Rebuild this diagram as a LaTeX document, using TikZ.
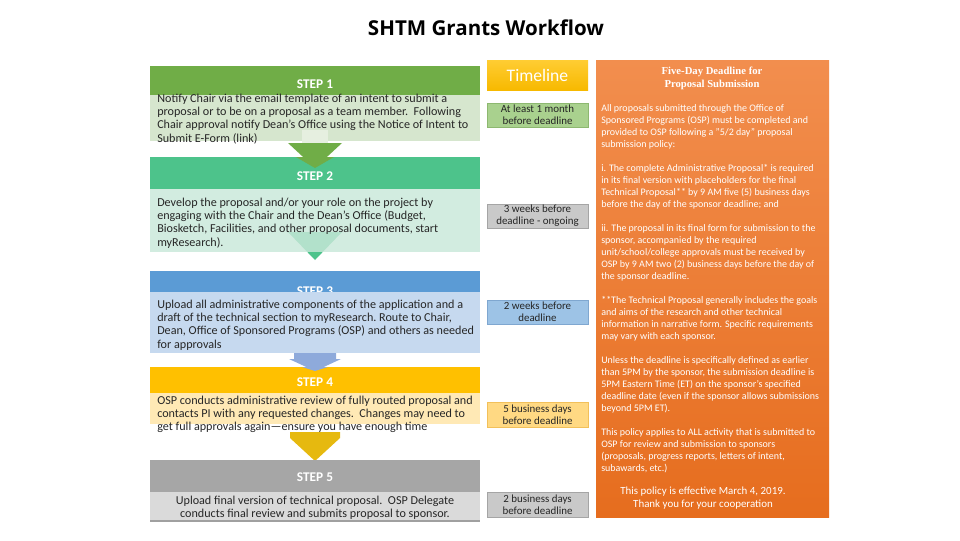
\documentclass[tikz,border=0pt]{standalone}
\usepackage{fontspec}
\setmainfont{Carlito}
\newfontfamily\titlefont{Open Sans}
\newfontfamily\panelheadfont{Liberation Serif}
\definecolor{txtgray}{HTML}{262626}
\definecolor{hdrA}{HTML}{70AD47}
\definecolor{bodyA}{HTML}{D6E6CE}
\definecolor{stemA}{HTML}{E6EFE0}
\definecolor{hdrB}{HTML}{4DC38B}
\definecolor{bodyB}{HTML}{C9E8DA}
\definecolor{hdrC}{HTML}{5B9BD5}
\definecolor{bodyC}{HTML}{C6D9EF}
\definecolor{arrC}{HTML}{8EAADB}
\definecolor{hdrD}{HTML}{FFC000}
\definecolor{bodyD}{HTML}{FFE9B5}
\definecolor{arrD}{HTML}{E6B90F}
\definecolor{hdrE}{HTML}{A6A6A6}
\definecolor{bodyE}{HTML}{DADADA}
\definecolor{lineE}{HTML}{A0A0A0}
\definecolor{tlhead}{HTML}{F7B900}
\definecolor{tlA}{HTML}{A9D18E}
\definecolor{tlAb}{HTML}{8DB870}
\definecolor{tlG}{HTML}{C9C9C9}
\definecolor{tlGb}{HTML}{A5A5A5}
\definecolor{tlC}{HTML}{9DC3E6}
\definecolor{tlCb}{HTML}{7FA7D0}
\definecolor{tlD}{HTML}{FFD983}
\definecolor{tlDb}{HTML}{F2C05A}
\definecolor{panelTop}{HTML}{F28E4E}
\definecolor{panelBot}{HTML}{E66D1E}
\begin{document}
\begin{tikzpicture}[x=0.75pt,y=-0.75pt,
  hdrtxt/.style={text=white, inner sep=0, font=\fontsize{10}{12}\selectfont\bfseries},
  bodytxt/.style={text=txtgray, inner sep=0, anchor=north west, align=left, font=\fontsize{9.1}{10}\selectfont},
  tltxt/.style={text=txtgray, inner sep=0, align=center, font=\fontsize{8.2}{9}\selectfont},
  tlbox/.style={line width=0.5pt},
  paneltxt/.style={text=white, inner sep=0, anchor=north west, align=left, font=\fontsize{7.5}{9}\selectfont}]
\useasboundingbox (0,0) rectangle (960,540);
\fill[white] (0,0) rectangle (960,540);

% title
\node[inner sep=0, font=\titlefont\fontsize{15.4}{17}\selectfont\bfseries] (title) at (486,28) {SHTM Grants Workflow};

% ---- Step 1
\fill[hdrA] (150,66) rectangle (480,95);
\node[hdrtxt] (h1) at (315,84) {STEP 1};
\fill[bodyA] (150,95) rectangle (480,141);
\node[bodytxt] (b1) at (157,93.5) {Notify Chair via the email template of an intent to submit a\\proposal or to be on a proposal as a team member.\ \ Following\\Chair approval notify Dean’s Office using the Notice of Intent to\\Submit E-Form (link)};
\fill[stemA] (302,130) rectangle (328,143);
\fill[hdrA] (288,143) -- (342,143) -- (315,168) -- cycle;

% ---- Step 2
\fill[hdrB] (150,157) rectangle (480,189);
\fill[hdrA] (296,157) -- (334,157) -- (315,168) -- cycle;
\node[hdrtxt] (h2) at (315,176.5) {STEP 2};
\fill[hdrB] (288,232) -- (342,232) -- (315,260) -- cycle;
\fill[bodyB, opacity=0.82] (150,189) rectangle (480,252);
\node[bodytxt] (b2) at (157,197.5) {Develop the proposal and/or your role on the project by\\engaging with the Chair and the Dean’s Office (Budget,\\Biosketch, Facilities, and other proposal documents, start\\myResearch).};

% ---- Step 3
\fill[hdrC] (150,271) rectangle (480,292);
\node[hdrtxt] (h3) at (315,291) {STEP 3};
\fill[bodyC] (150,292) rectangle (480,353);
\node[bodytxt] (b3) at (157,299.5) {Upload all administrative components of the application and a\\draft of the technical section to myResearch.\ Route to Chair,\\Dean, Office of Sponsored Programs (OSP) and others as needed\\for approvals};
\fill[arrC] (294,353) -- (336,353) -- (336,359) -- (341,359) -- (315,371) -- (289,359) -- (294,359) -- cycle;

% ---- Step 4
\fill[hdrD] (150,367) rectangle (480,393);
\fill[arrC] (302,367) -- (328,367) -- (315,371) -- cycle;
\node[hdrtxt] (h4) at (315,382.5) {STEP 4};
\fill[bodyD] (150,393) rectangle (480,424);
\node[bodytxt] (b4) at (157,395.5) {OSP conducts administrative review of fully routed proposal and\\contacts PI with any requested changes.\ \ Changes may need to\\get full approvals again—ensure you have enough time};
\fill[arrD] (290,432) -- (340,432) -- (340,438) -- (315,461) -- (290,438) -- cycle;

% ---- Step 5
\fill[hdrE] (150,460) rectangle (480,492);
\node[hdrtxt] (h5) at (315,477.5) {STEP 5};
\fill[bodyE] (150,492) rectangle (480,521);
\draw[lineE, line width=0.8pt] (150,521) -- (480,521);
\node[bodytxt, anchor=north, align=center] (b5) at (315,495.5) {Upload final version of technical proposal.\ \ OSP Delegate\\conducts final review and submits proposal to sponsor.};

% ---- Timeline
\shade[top color=hdrD!80!white, bottom color=tlhead] (487,60) rectangle (588,90);
\node[inner sep=0, text=white, font=\fontsize{13.2}{15}\selectfont] (tl) at (537.5,75) {Timeline};
\filldraw[tlbox, fill=tlA, draw=tlAb] (487,103) rectangle (588,127);
\node[tltxt] (t1) at (537.5,115) {At least 1 month\\before deadline};
\filldraw[tlbox, fill=tlG, draw=tlGb] (487,204) rectangle (588,228);
\node[tltxt] (t2) at (537.5,216) {3 weeks before\\deadline - ongoing};
\filldraw[tlbox, fill=tlC, draw=tlCb] (487,300) rectangle (588,324);
\node[tltxt] (t3) at (537.5,312) {2 weeks before\\deadline};
\filldraw[tlbox, fill=tlD, draw=tlDb] (487,402) rectangle (588,427);
\node[tltxt] (t4) at (537.5,414.5) {5 business days\\before deadline};
\filldraw[tlbox, fill=tlG, draw=tlGb] (487,492) rectangle (588,517);
\node[tltxt] (t5) at (537.5,504.5) {2 business days\\before deadline};

% ---- Orange panel
\shade[top color=panelTop, bottom color=panelBot] (596,60) rectangle (829,517);
\node[inner sep=0, text=white, align=center, font=\panelheadfont\fontsize{8}{9.75}\selectfont\bfseries] (ph) at (712,78.5) {Five-Day Deadline for\\Proposal Submission};
\node[paneltxt] (p1) at (601,104.5) {All proposals submitted through the Office of\\
Sponsored Programs (OSP) must be completed and\\
provided to OSP following a "5/2 day" proposal\\
submission policy:\\[9pt]
i. The complete Administrative Proposal* is required\\
in its final version with placeholders for the final\\
Technical Proposal** by 9 AM five (5) business days\\
before the day of the sponsor deadline; and\\[9pt]
ii. The proposal in its final form for submission to the\\
sponsor, accompanied by the required\\
unit/school/college approvals must be received by\\
OSP by 9 AM two (2) business days before the day of\\
the sponsor deadline.\\[9pt]
**The Technical Proposal generally includes the goals\\
and aims of the research and other technical\\
information in narrative form. Specific requirements\\
may vary with each sponsor.\\[9pt]
Unless the deadline is specifically defined as earlier\\
than 5PM by the sponsor, the submission deadline is\\
5PM Eastern Time (ET) on the sponsor’s specified\\
deadline date (even if the sponsor allows submissions\\
beyond 5PM ET).\\[9pt]
This policy applies to ALL activity that is submitted to\\
OSP for review and submission to sponsors\\
(proposals, progress reports, letters of intent,\\
subawards, etc.)};
\node[inner sep=0, text=white, align=center, font=\fontsize{8.2}{9.75}\selectfont] (p2) at (703,498.5) {This policy is effective March 4, 2019.\\Thank you for your cooperation};
\end{tikzpicture}
\end{document}
